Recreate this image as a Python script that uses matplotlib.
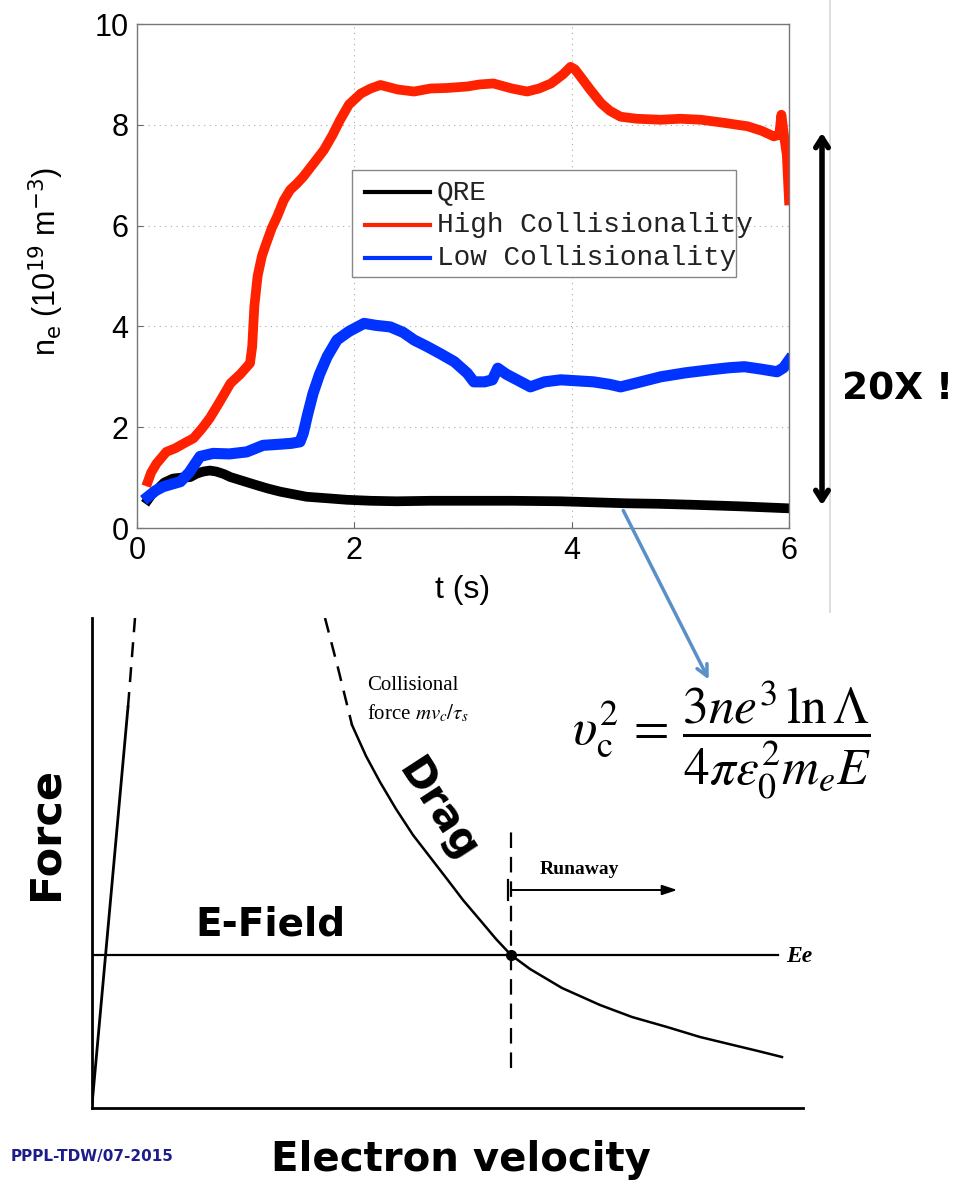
import matplotlib
matplotlib.use("Agg")
import matplotlib.pyplot as plt
from matplotlib.patches import Rectangle

# ---- density traces (t in s, n_e in 1e19 m^-3) ----
t_high = [0.10, 0.13, 0.18, 0.27, 0.35, 0.45, 0.52, 0.60, 0.67, 0.76, 0.86, 0.95, 1.04, 1.06,
          1.08, 1.11, 1.15, 1.19, 1.24, 1.29, 1.35, 1.41, 1.47, 1.53, 1.62, 1.72, 1.80, 1.87,
          1.95, 2.06, 2.15, 2.24, 2.40, 2.55, 2.70, 2.85, 3.04, 3.15, 3.28, 3.45, 3.59, 3.70,
          3.81, 3.92, 3.99, 4.03, 4.08, 4.17, 4.27, 4.35, 4.45, 4.60, 4.82, 5.00, 5.19, 5.40,
          5.62, 5.75, 5.86, 5.91, 5.93, 5.95, 5.98, 6.00]
n_high = [0.92, 1.10, 1.28, 1.51, 1.58, 1.70, 1.78, 1.98, 2.18, 2.50, 2.87, 3.05, 3.27, 3.60,
          4.40, 5.00, 5.40, 5.65, 5.95, 6.18, 6.50, 6.71, 6.83, 6.97, 7.22, 7.50, 7.80, 8.10,
          8.40, 8.62, 8.72, 8.79, 8.70, 8.66, 8.72, 8.73, 8.76, 8.80, 8.82, 8.72, 8.66, 8.72,
          8.82, 9.00, 9.15, 9.10, 8.96, 8.70, 8.43, 8.28, 8.16, 8.12, 8.10, 8.12, 8.10, 8.04,
          7.97, 7.88, 7.77, 7.80, 8.20, 7.85, 7.40, 6.50]

t_low = [0.10, 0.17, 0.24, 0.32, 0.40, 0.48, 0.58, 0.70, 0.85, 1.01, 1.16, 1.30, 1.42, 1.50,
         1.53, 1.57, 1.62, 1.68, 1.75, 1.84, 1.95, 2.09, 2.20, 2.33, 2.45, 2.55, 2.67, 2.79,
         2.92, 3.04, 3.10, 3.20, 3.27, 3.32, 3.40, 3.47, 3.55, 3.62, 3.75, 3.90, 4.05, 4.20,
         4.35, 4.45, 4.60, 4.82, 5.05, 5.28, 5.45, 5.59, 5.75, 5.89, 5.95, 6.00]
n_low = [0.62, 0.74, 0.82, 0.87, 0.92, 1.10, 1.42, 1.48, 1.47, 1.51, 1.64, 1.66, 1.68, 1.71,
         1.88, 2.25, 2.67, 3.05, 3.40, 3.73, 3.90, 4.06, 4.02, 3.99, 3.88, 3.73, 3.60, 3.46,
         3.30, 3.07, 2.90, 2.90, 2.94, 3.17, 3.05, 2.97, 2.88, 2.80, 2.90, 2.94, 2.92, 2.90,
         2.85, 2.80, 2.88, 3.00, 3.08, 3.14, 3.18, 3.20, 3.15, 3.10, 3.18, 3.33]

t_qre = [0.10, 0.14, 0.18, 0.25, 0.33, 0.41, 0.49, 0.55, 0.61, 0.67, 0.73, 0.80, 0.86, 0.98,
         1.10, 1.21, 1.32, 1.44, 1.56, 1.75, 1.93, 2.15, 2.39, 2.70, 3.00, 3.45, 3.90, 4.20,
         4.51, 4.80, 5.13, 5.55, 6.00]
n_qre = [0.56, 0.68, 0.75, 0.90, 0.98, 1.00, 1.01, 1.08, 1.12, 1.14, 1.12, 1.07, 1.01, 0.93,
         0.85, 0.78, 0.72, 0.67, 0.62, 0.59, 0.56, 0.54, 0.53, 0.54, 0.54, 0.54, 0.53, 0.51,
         0.49, 0.48, 0.46, 0.43, 0.39]

x_ticks = [0, 2, 4, 6]
y_ticks = [0, 2, 4, 6, 8, 10]
legend_labels = ["QRE", "High Collisionality", "Low Collisionality"]
legend_colors = ["black", "#ff2200", "#0033ff"]

# ---- force diagram (velocity, force in sketch units) ----
drag_dash_v = [233, 246, 260]
drag_dash_f = [490, 440, 383]
drag_v = [260, 274, 288, 304, 321, 338, 355, 371, 388, 404, 419, 438, 470, 508, 540, 575, 608, 641, 666, 690]
drag_f = [383, 352, 326, 299, 273, 251, 229, 208, 188, 169, 153, 139, 120, 103, 91, 81, 71, 63, 57, 51]
esc_v = [0, 36]
esc_f = [3, 401]
esc_dash_v = [36, 43]
esc_dash_f = [401, 490]
e_field = 153
v_crit = 419

W, H = 966, 1182
fig = plt.figure(figsize=(W / 100, H / 100), dpi=100)

# top plot
ax = fig.add_axes([137 / W, 1 - 528 / H, (789 - 137) / W, (528 - 24) / H])
ax.plot(t_qre, n_qre, color=legend_colors[0], lw=7, solid_joinstyle="round")
ax.plot(t_high, n_high, color=legend_colors[1], lw=7, solid_joinstyle="round")
ax.plot(t_low, n_low, color=legend_colors[2], lw=8, solid_joinstyle="round")
ax.set_xlim(0, 6)
ax.set_ylim(0, 10)
ax.set_xticks(x_ticks)
ax.set_yticks(y_ticks)
ax.grid(True, linestyle=(0, (1, 4)), color="#aaaaaa", lw=0.8)
ax.tick_params(direction="in", length=4, color="#666666", labelsize=22, pad=6)
for lab in ax.get_xticklabels() + ax.get_yticklabels():
    lab.set_family("Liberation Sans")
for s in ax.spines.values():
    s.set_color("#777777")
    s.set_linewidth(1.0)

# overlay in pixel coordinates for annotations
ov = fig.add_axes([0, 0, 1, 1], zorder=5)
ov.set_xlim(0, W)
ov.set_ylim(H, 0)
ov.axis("off")

ov.text(46, 262, r"n$_{\rm e}$ (10$^{19}$ m$^{-3}$)", rotation=90, ha="center", va="center",
        fontsize=22, family="Liberation Sans")
ov.text(463, 590, "t (s)", ha="center", va="center", fontsize=23, family="Liberation Sans")

# hand drawn legend
ov.add_patch(Rectangle((352, 170), 384, 107, facecolor="white", edgecolor="#888888", lw=1.0))
for i, (lab, col) in enumerate(zip(legend_labels, legend_colors)):
    yy = 192 + i * 33
    ov.plot([365, 430], [yy, yy], color=col, lw=3)
    ov.text(437, yy, lab, ha="left", va="center", fontsize=20, family="Liberation Mono",
            color="#222222")

# separator line and 20X arrow
ov.plot([830, 830], [0, 612], color="#d8d8d8", lw=1.2)
ov.annotate("", xy=(822, 130), xytext=(822, 508),
            arrowprops=dict(arrowstyle="<->,head_length=0.7,head_width=0.45", lw=4, color="black"))
ov.text(898, 390, "20X !", ha="center", va="center", fontsize=27, fontweight="bold",
        family="DejaVu Sans")

# blue pointer arrow to the formula
ov.annotate("", xy=(710, 682), xytext=(622, 508),
            arrowprops=dict(arrowstyle="->,head_length=0.8,head_width=0.4", lw=2.5, color="#5b8fc8"))

# diagram axes
dg = fig.add_axes([92 / W, 1 - 1108 / H, 711 / W, 490 / H])
dg.set_xlim(0, 711)
dg.set_ylim(0, 490)
dg.set_xticks([])
dg.set_yticks([])
dg.patch.set_alpha(0)
for k in ["top", "right"]:
    dg.spines[k].set_visible(False)
for k in ["left", "bottom"]:
    dg.spines[k].set_linewidth(2)
dg.plot(drag_dash_v, drag_dash_f, color="black", lw=1.8, ls=(0, (6, 4)))
dg.plot(drag_v, drag_f, color="black", lw=1.8)
dg.plot(esc_v, esc_f, color="black", lw=2)
dg.plot(esc_dash_v, esc_dash_f, color="black", lw=1.8, ls=(0, (6, 4)))
dg.plot([0, 686], [e_field, e_field], color="black", lw=1.6)
dg.plot([v_crit, v_crit], [40, 280], color="black", lw=1.6, ls=(0, (7, 4)))
dg.plot([v_crit], [e_field], "o", color="black", ms=7)
dg.plot([v_crit - 3, v_crit - 3], [208, 228], color="black", lw=1.6)
dg.annotate("", xy=(588, 218), xytext=(v_crit - 3, 218),
            arrowprops=dict(arrowstyle="-|>,head_length=0.9,head_width=0.3", lw=1.4, color="black"))

ov.text(786, 957, "Ee", ha="left", va="center", fontsize=17, fontstyle="italic",
        fontweight="bold", family="Liberation Serif")
ov.text(540, 870, "Runaway", ha="left", va="center", fontsize=14, fontweight="bold",
        family="Liberation Serif")
ov.text(367, 685, "Collisional", ha="left", va="center", fontsize=15, family="Liberation Serif")
ov.text(367, 713, r"force $mv_c/\tau_s$", ha="left", va="center", fontsize=15,
        family="Liberation Serif", math_fontfamily="stix")
ov.text(722, 740, r"$\upsilon_{\rm c}^{2}\, = \,\dfrac{3ne^{3}\,\ln\Lambda}{4\pi\varepsilon_0^{2}m_{e}E}$",
        ha="center", va="center", fontsize=37, math_fontfamily="stix")

ov.text(45, 833, "Force", rotation=90, ha="center", va="center", fontsize=31, fontweight="bold",
        family="DejaVu Sans")
ov.text(270, 925, "E-Field", ha="center", va="center", fontsize=28, fontweight="bold",
        family="DejaVu Sans")
ov.text(438, 810, "Drag", rotation=-57, ha="center", va="center", fontsize=30, fontweight="bold",
        family="DejaVu Sans", rotation_mode="anchor")
ov.text(461, 1160, "Electron velocity", ha="center", va="center", fontsize=29, fontweight="bold",
        family="DejaVu Sans")
ov.text(92, 1156, "PPPL-TDW/07-2015", ha="center", va="center", fontsize=11, fontweight="bold",
        family="DejaVu Sans", color="#1c1c8a")

fig.savefig("out.png", dpi=100)
